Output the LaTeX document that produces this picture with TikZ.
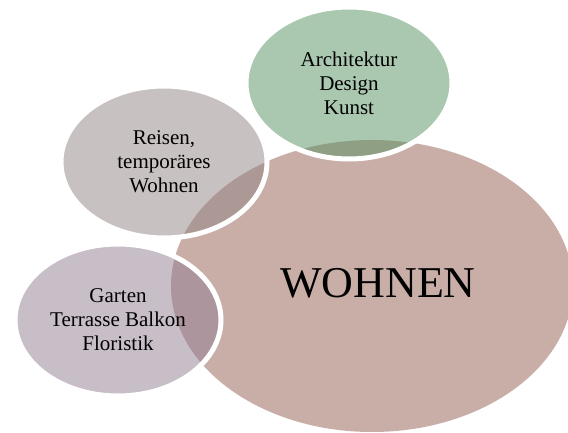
\documentclass[tikz,border=0pt]{standalone}
\usepackage{fontspec}
\setmainfont{Liberation Serif}
\usepackage{tikz}
\usetikzlibrary{shapes.geometric}
\usepackage{color}
\definecolor{hubfill}{RGB}{201,174,168}
\definecolor{greenfill}{RGB}{85,145,95}
\definecolor{greyfill}{RGB}{145,131,131}
\definecolor{lilacfill}{RGB}{145,125,145}
\tikzset{
	hub/.style={ellipse, fill=hubfill, inner sep=0pt, minimum width=402pt, minimum height=292pt},
	hubtext/.style={font=\fontsize{44}{50}\selectfont},
	bubble/.style={ellipse, draw=white, line width=5pt, fill opacity=0.5, text opacity=1, inner sep=0pt, minimum width=206pt, minimum height=152pt, align=center, font=\fontsize{21}{24}\selectfont}
}

\begin{document}
\begin{tikzpicture}[x=1pt,y=-1pt]
		\clip (0,0) rectangle (568,433); %picture size
		\node[hub] (wohnen) at (372,286) {};
		\node[hubtext] (wohnentext) at (378,283) {WOHNEN};
		\node[bubble, fill=greenfill] (kunst) at (349,83) {Architektur\\Design\\Kunst};
		\node[bubble, fill=greyfill] (reisen) at (164,162) {Reisen,\\temporäres\\Wohnen};
		\node[bubble, fill=lilacfill] (garten) at (118,320) {Garten\\Terrasse Balkon\\Floristik};
		\end{tikzpicture}
\end{document}
